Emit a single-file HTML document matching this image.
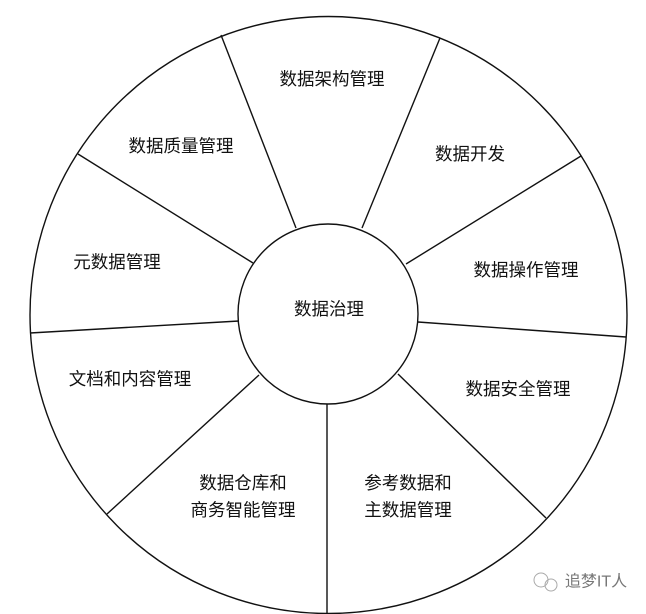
<!DOCTYPE html>
<html><head><meta charset="utf-8"><style>
html,body{margin:0;padding:0;background:#fff;}
svg{display:block;}
text{font-family:"Liberation Sans","Noto Sans CJK SC",sans-serif;font-size:17.5px;fill:#111;text-anchor:middle;dominant-baseline:central;}
</style></head><body>
<svg width="646" height="614" viewBox="0 0 646 614" xmlns="http://www.w3.org/2000/svg">
<g stroke="#111" stroke-width="1.4" fill="none">
<circle cx="328.5" cy="315" r="298.5"/>
<circle cx="328" cy="314" r="90"/>
<line x1="221" y1="35" x2="296" y2="228"/>
<line x1="440" y1="38" x2="362" y2="228"/>
<line x1="581" y1="156" x2="406" y2="264"/>
<line x1="626" y1="337" x2="418" y2="322"/>
<line x1="546" y1="518" x2="398" y2="374"/>
<line x1="327" y1="614" x2="327" y2="404"/>
<line x1="107" y1="514" x2="259" y2="375"/>
<line x1="30" y1="333" x2="239" y2="321"/>
<line x1="78" y1="154" x2="253" y2="263"/>
</g>
<text x="332" y="79">数据架构管理</text>
<text x="181" y="146">数据质量管理</text>
<text x="470" y="154">数据开发</text>
<text x="117" y="262">元数据管理</text>
<text x="526" y="270">数据操作管理</text>
<text x="329" y="309">数据治理</text>
<text x="130" y="379">文档和内容管理</text>
<text x="518" y="389">数据安全管理</text>
<text x="243" y="483">数据仓库和</text>
<text x="243" y="510">商务智能管理</text>
<text x="408" y="483">参考数据和</text>
<text x="408" y="510">主数据管理</text>
<g stroke="#aaa" stroke-width="1" fill="none">
<circle cx="541" cy="580" r="7"/>
<circle cx="551" cy="585" r="6"/>
</g>
<text x="596" y="582" style="fill:#777;font-size:16px">追梦IT人</text>
</svg>
</body></html>
